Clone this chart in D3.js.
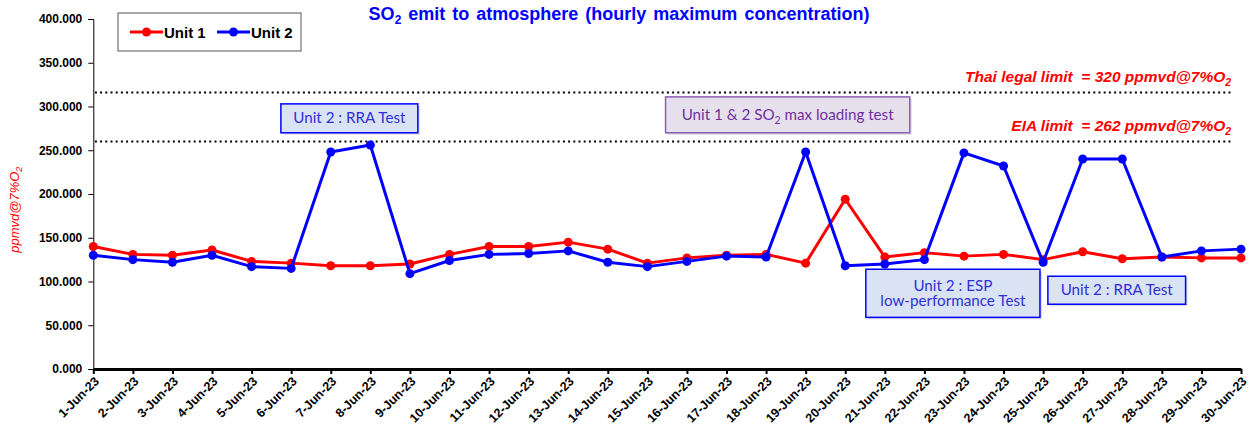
<!DOCTYPE html>
<html>
<head>
  <meta charset="utf-8">
  <title>so2-chart</title>
  <style>
    * { margin: 0; padding: 0; }
    body { background: #fff; }
    svg { display: block; font-family: "Liberation Sans", Arial, sans-serif; }
  </style>
</head>
<body>
  <svg id="svg"></svg>
  <script src="https://cdnjs.cloudflare.com/ajax/libs/d3/7.8.5/d3.min.js"></script>
  <script>
    const dates = d3.range(1, 31).map(d => `${d}-Jun-23`);
    const unit1 = [140, 131, 130, 136, 123, 121, 118, 118, 120, 131, 140, 140, 145, 137, 121,
      127, 130, 131, 121, 194, 128, 133, 129, 131, 125, 134, 126, 128, 127, 127];
    const unit2 = [130, 125, 122, 130, 117, 115, 248, 256, 109, 124, 131, 132, 135, 122, 117,
      123, 129, 128, 248, 118, 120, 125, 247, 232, 122, 240, 240, 128, 135, 137];
    const yTicks = [0, 50, 100, 150, 200, 250, 300, 350, 400];
    const limits = [
      { value: 316, label: 'Thai legal limit  = 320 ppmvd@7%O', ty: 328 },
      { value: 260, label: 'EIA limit  = 262 ppmvd@7%O', ty: 272 }
    ];
    const notes = [
      { lines: ['Unit 2 : RRA Test'], x0: 4.74, x1: 8.2, y0: 303, y1: 270, kind: 'blue' },
      { lines: ['Unit 1 & 2 SO|2| max loading test'], x0: 14.46, x1: 20.63, y0: 311, y1: 270, kind: 'purple' },
      { lines: ['Unit 2 : ESP', 'low-performance Test'], x0: 19.52, x1: 23.92, y0: 114, y1: 59, kind: 'blue' },
      { lines: ['Unit 2 : RRA Test'], x0: 24.12, x1: 27.6, y0: 106, y1: 74, kind: 'blue' }
    ];

    const W = 1259, H = 426;
    const m = { left: 93.3, right: 18, top: 19, bottom: 57 };
    const svg = d3.select('#svg').attr('width', W).attr('height', H);

    const x = d3.scaleLinear().domain([0, 29]).range([m.left, W - m.right]);
    const y = d3.scaleLinear().domain([0, 400]).range([H - m.bottom, m.top]);

    // y axis
    const yAxis = svg.append('g')
      .attr('transform', `translate(${m.left},0)`)
      .call(d3.axisLeft(y).tickValues(yTicks).tickFormat(d3.format('.3f')).tickSize(5).tickPadding(6));
    yAxis.select('.domain').attr('stroke', '#000');
    yAxis.selectAll('text').attr('font-size', 12).attr('font-weight', 'bold').attr('fill', '#000')
      .attr('font-family', '"Liberation Sans", Arial, sans-serif');

    // x axis
    const xAxis = svg.append('g')
      .attr('transform', `translate(0,${y(0)})`)
      .call(d3.axisBottom(x).tickValues(d3.range(30)).tickFormat(i => dates[i]).tickSize(5).tickSizeOuter(0));
    xAxis.select('.domain').attr('stroke', '#000').attr('stroke-width', 3);
    xAxis.selectAll('.tick line').attr('stroke-width', 2);
    xAxis.selectAll('text')
      .attr('font-size', 12.5).attr('font-weight', 'bold').attr('fill', '#000')
      .attr('font-family', '"Liberation Sans", Arial, sans-serif')
      .attr('text-anchor', 'end')
      .attr('dy', null).attr('y', 0)
      .attr('transform', 'translate(6,13) rotate(-45)');

    // y axis title
    const yt = svg.append('text')
      .attr('transform', `translate(19,${y(182)}) rotate(-90)`)
      .attr('text-anchor', 'middle')
      .attr('fill', '#ff0000').attr('font-style', 'italic').attr('font-size', 13);
    yt.append('tspan').text('ppmvd@7%O');
    yt.append('tspan').attr('font-size', 9).attr('dy', 3).text('2');

    // title
    const title = svg.append('text')
      .attr('x', 619).attr('y', 20)
      .attr('text-anchor', 'middle')
      .attr('fill', '#0000ff').attr('font-weight', 'bold').attr('font-size', 18)
      .attr('word-spacing', 2);
    title.append('tspan').text('SO');
    title.append('tspan').attr('font-size', 12).attr('dy', 4).text('2');
    title.append('tspan').attr('dy', -4).text(' emit to atmosphere (hourly maximum concentration)');

    // limit lines
    limits.forEach(l => {
      svg.append('line')
        .attr('x1', x(0.04)).attr('x2', x(28.75))
        .attr('y1', y(l.value)).attr('y2', y(l.value))
        .attr('stroke', '#000').attr('stroke-width', 2.2)
        .attr('stroke-dasharray', '2 3.2');
      const t = svg.append('text')
        .attr('x', x(28.75)).attr('y', y(l.ty))
        .attr('text-anchor', 'end')
        .style('white-space', 'pre')
        .attr('fill', '#ff0000').attr('font-weight', 'bold').attr('font-style', 'italic').attr('font-size', 15.5);
      t.append('tspan').text(l.label);
      t.append('tspan').attr('font-size', 10.5).attr('dy', 4).text('2');
    });

    // annotation boxes
    const noteStyle = {
      blue: { fill: '#dae3f3', stroke: '#0000ff', text: '#2f2fd6' },
      purple: { fill: '#e6e0ec', stroke: '#8a5fb4', text: '#7030a0' }
    };
    notes.forEach(n => {
      const s = noteStyle[n.kind];
      const bx = x(n.x0), bw = x(n.x1) - x(n.x0), by = y(n.y0), bh = y(n.y1) - y(n.y0);
      svg.append('rect').attr('x', bx + 2).attr('y', by + 2).attr('width', bw).attr('height', bh)
        .attr('fill', '#c8c8c8').attr('opacity', 0.6);
      svg.append('rect').attr('x', bx).attr('y', by).attr('width', bw).attr('height', bh)
        .attr('fill', s.fill).attr('stroke', s.stroke).attr('stroke-width', 1.5);
      const lh = 15.5;
      n.lines.forEach((line, i) => {
        const t = svg.append('text')
          .attr('x', bx + bw / 2)
          .attr('y', by + bh / 2 + (i - (n.lines.length - 1) / 2) * lh + 5)
          .attr('text-anchor', 'middle')
          .attr('fill', s.text).attr('font-size', 15.2)
          .attr('font-family', 'Lato, "Open Sans", sans-serif');
        line.split('|').forEach((part, k) => {
          if (k % 2 === 1) t.append('tspan').attr('font-size', 10.5).attr('dy', 4).text(part);
          else t.append('tspan').attr('dy', k > 0 ? -4 : null).text(part);
        });
      });
    });

    // series
    const series = [
      { name: 'Unit 1', values: unit1, color: '#ff0000' },
      { name: 'Unit 2', values: unit2, color: '#0000ff' }
    ];
    const line = d3.line().x((d, i) => x(i)).y(d => y(d));
    series.forEach(s => {
      svg.append('path').datum(s.values)
        .attr('d', line).attr('fill', 'none')
        .attr('stroke', s.color).attr('stroke-width', 3).attr('stroke-linejoin', 'round');
      svg.append('g').selectAll('circle').data(s.values).enter()
        .append('circle')
        .attr('cx', (d, i) => x(i)).attr('cy', d => y(d)).attr('r', 4.5)
        .attr('fill', s.color);
    });

    // legend
    const lg = svg.append('g').attr('transform', 'translate(118,13)');
    lg.append('rect').attr('width', 183).attr('height', 38)
      .attr('fill', '#fff').attr('stroke', '#555').attr('stroke-width', 1);
    series.forEach((s, i) => {
      const g = lg.append('g').attr('transform', `translate(${12 + i * 87},19)`);
      g.append('line').attr('x1', 0).attr('x2', 33).attr('stroke', s.color).attr('stroke-width', 3);
      g.append('circle').attr('cx', 16.5).attr('r', 4.5).attr('fill', s.color);
      g.append('text').attr('x', 34).attr('y', 5.5)
        .attr('font-size', 15).attr('font-weight', 'bold').attr('fill', '#000').text(s.name);
    });
  </script>
</body>
</html>
